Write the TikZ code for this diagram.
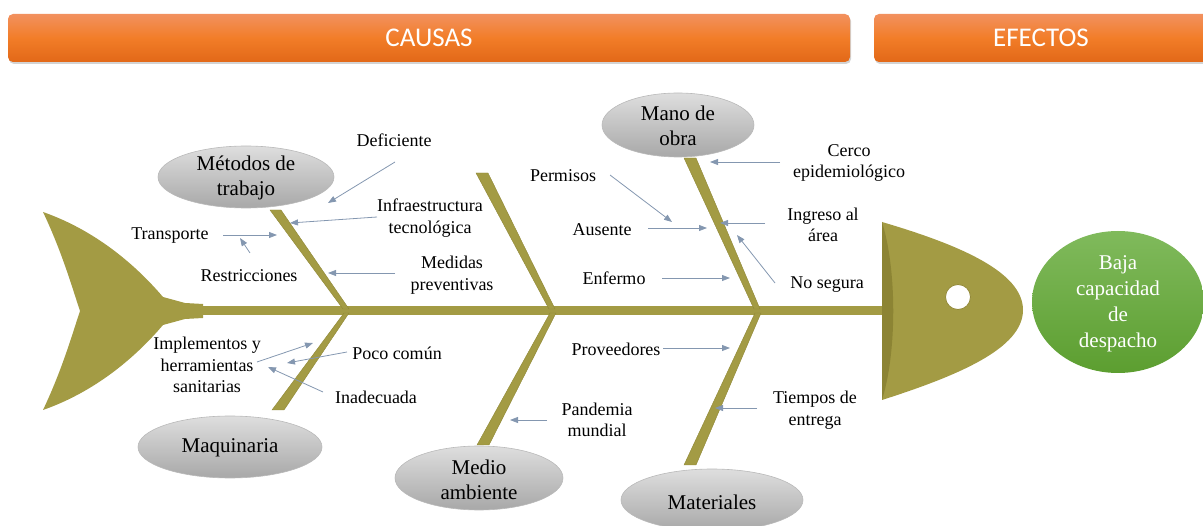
\documentclass[tikz,border=0pt]{standalone}
\usepackage{fontspec}
\setmainfont{Liberation Serif}
\newfontfamily\hdrfont{Carlito}
\usetikzlibrary{arrows.meta,shadows}
\definecolor{bone}{RGB}{163,155,68}
\definecolor{bonedark}{RGB}{130,122,45}
\definecolor{arrowc}{RGB}{132,151,176}
\definecolor{hdrTop}{RGB}{242,145,95}
\definecolor{hdrMid}{RGB}{242,125,40}
\definecolor{hdrBot}{RGB}{226,104,24}
\definecolor{catTop}{RGB}{222,222,222}
\definecolor{catBot}{RGB}{168,168,168}
\definecolor{catEdge}{RGB}{185,185,185}
\definecolor{grTop}{RGB}{128,186,92}
\definecolor{grBot}{RGB}{92,158,48}
\begin{document}
\begin{tikzpicture}[x=1pt,y=-1pt,
  lbl/.style={font=\fontsize{18}{21.5}\selectfont, align=center, inner sep=0pt},
  catshape/.style={draw=catEdge, line width=0.6pt, top color=catTop, bottom color=catBot},
  cattext/.style={font=\fontsize{21}{24.5}\selectfont, align=center, inner sep=0pt},
  arr/.style={draw=arrowc, line width=0.8pt, -{Triangle[length=8pt,width=6pt]}},
  bonefill/.style={fill=bone, draw=bonedark!60!bone, line width=0.4pt},
  hdr/.style={rounded corners=5pt, top color=hdrTop, bottom color=hdrBot, middle color=hdrMid,
    text=white, font=\hdrfont\fontsize{27}{30}\selectfont, inner sep=0pt, minimum height=48pt,
    drop shadow={shadow xshift=1pt, shadow yshift=-2pt, opacity=0.35}}
]
\useasboundingbox (0,0) rectangle (1203,526);

% headers
\node[hdr, minimum width=842pt] (causas) at (429,38) {CAUSAS};
\node[hdr, minimum width=334pt] (efectos) at (1041,38) {EFECTOS};

% tail
\fill[bone] (43,212) .. controls (100,232) and (140,270) .. (163,297)
  -- (185,303) -- (203,304) -- (203,318) -- (185,319) -- (163,325)
  .. controls (140,352) and (100,390) .. (43,410)
  .. controls (62,370) and (72,335) .. (80,311)
  .. controls (72,287) and (62,252) .. (43,212) -- cycle;

% spine
\fill[bone] (200,306.5) rectangle (886,315.5);

% bones (upper)
\path[bonefill] (270,210) -- (281,210) -- (349,309) -- (343,309) -- cycle;
\path[bonefill] (476,173) -- (488,173) -- (555,309) -- (549,309) -- cycle;
\path[bonefill] (684,158) -- (696,158) -- (760,309) -- (754,309) -- cycle;
% bones (lower)
\path[bonefill] (272,410) -- (284,410) -- (349,313) -- (344,313) -- cycle;
\path[bonefill] (477,445) -- (489,445) -- (556,313) -- (550,313) -- cycle;
\path[bonefill] (684,465) -- (696,465) -- (761,313) -- (755,313) -- cycle;

% head
\fill[bone] (882,222) .. controls (960,245) and (1023,272) .. (1023,310)
  .. controls (1023,348) and (960,375) .. (882,400) -- cycle;
\fill[bonedark!70!bone] (882,222) .. controls (897,270) and (897,352) .. (882,400) -- cycle;
\fill[white] (958,297) circle[radius=12.5];
\draw[bonedark!50!bone, line width=0.8pt] (958,297) circle[radius=12.5];

% effect ellipse
\path[top color=grTop, bottom color=grBot] (1118,302) ellipse[x radius=86, y radius=71];
\node[cattext, text=white, font=\fontsize{21}{26}\selectfont] (efecto) at (1118,304) {Baja\\capacidad\\de\\despacho};

% category ellipses
\path[catshape] (246,177) ellipse[x radius=88, y radius=31];
\node[cattext] (metodos) at (246,178) {Métodos de\\trabajo};
\path[catshape] (678,125) ellipse[x radius=76, y radius=32];
\node[cattext] (mano) at (678,126) {Mano de\\obra};
\path[catshape] (230,447) ellipse[x radius=92, y radius=31];
\node[cattext] (maquinaria) at (230,448) {Maquinaria};
\path[catshape] (479,478) ellipse[x radius=84, y radius=32];
\node[cattext] (medio) at (479,480) {Medio\\ambiente};
\path[catshape] (712,500) ellipse[x radius=91, y radius=31];
\node[cattext] (materiales) at (712,502) {Materiales};

% labels
\node[lbl] (deficiente) at (394,140) {Deficiente};
\node[lbl] (infra) at (430,218) {Infraestructura\\tecnológica};
\node[lbl] (transporte) at (170,236) {Transporte};
\node[lbl] (restricciones) at (249,276) {Restricciones};
\node[lbl] (medidas) at (452,275) {Medidas\\preventivas};
\node[lbl] (permisos) at (563,176) {Permisos};
\node[lbl] (ausente) at (602,230) {Ausente};
\node[lbl] (enfermo) at (614,278) {Enfermo};
\node[lbl] (cerco) at (849,163) {Cerco\\epidemiológico};
\node[lbl] (ingreso) at (823,225) {Ingreso al\\área};
\node[lbl] (nosegura) at (827,285) {No segura};
\node[lbl] (implementos) at (207,365) {Implementos y\\herramientas\\sanitarias};
\node[lbl] (poco) at (397,353) {Poco común};
\node[lbl] (inadecuada) at (376,397) {Inadecuada};
\node[lbl] (pandemia) at (597,420) {Pandemia\\mundial};
\node[lbl] (proveedores) at (616,349) {Proveedores};
\node[lbl] (tiempos) at (815,410) {Tiempos de\\entrega};

% arrow endpoints
\coordinate (s1) at (395,162); \coordinate (t1) at (328,203);
\coordinate (s2) at (377,217); \coordinate (t2) at (290,223);
\coordinate (s3) at (223,235); \coordinate (t3) at (277,235);
\coordinate (s4) at (250,253); \coordinate (t4) at (240,238);
\coordinate (s5) at (395,273); \coordinate (t5) at (328,273);
\coordinate (s6) at (610,175); \coordinate (t6) at (672,222);
\coordinate (s7) at (648,228); \coordinate (t7) at (707,228);
\coordinate (s8) at (662,278); \coordinate (t8) at (730,278);
\coordinate (s9) at (780,162); \coordinate (t9) at (710,162);
\coordinate (s10) at (765,223); \coordinate (t10) at (720,223);
\coordinate (s11) at (775,283); \coordinate (t11) at (737,235);
\coordinate (s12) at (257,362); \coordinate (t12) at (313,343);
\coordinate (s13) at (347,352); \coordinate (t13) at (287,363);
\coordinate (s14) at (323,392); \coordinate (t14) at (268,367);
\coordinate (s15) at (547,420); \coordinate (t15) at (510,420);
\coordinate (s16) at (663,348); \coordinate (t16) at (730,348);
\coordinate (s17) at (757,408); \coordinate (t17) at (715,408);

\foreach \i in {1,...,17} { \draw[arr] (s\i) -- (t\i); }
\end{tikzpicture}
\end{document}
